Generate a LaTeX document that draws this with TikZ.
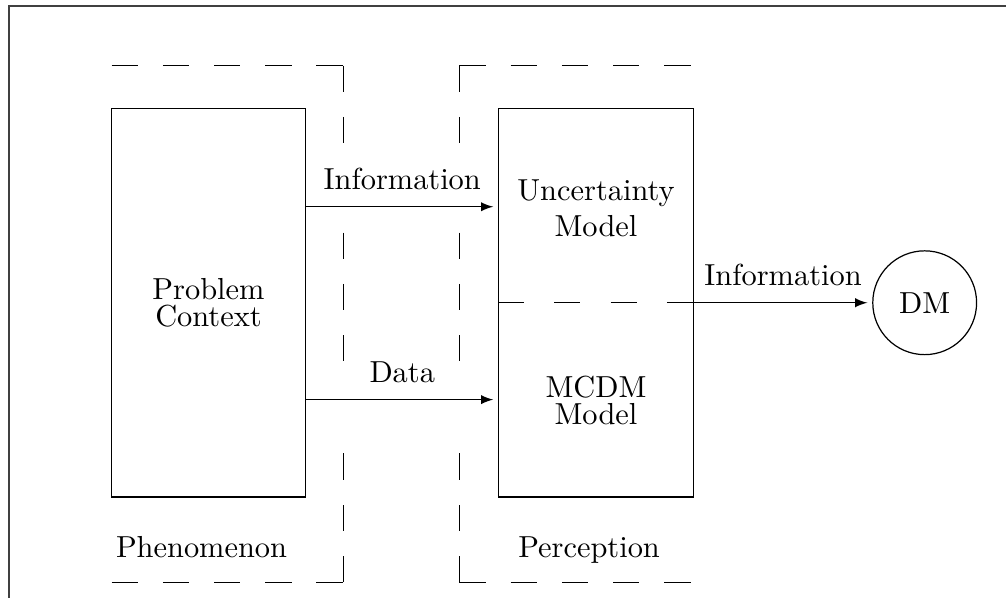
\documentclass[tikz,border=0pt]{standalone}

\begin{document}
\begin{tikzpicture}[
    box/.style={draw, minimum width=2.25cm, minimum height=4.49cm, inner sep=0pt},
    cut/.style={dash pattern=on 8.65pt off 8.2pt},
    seam/.style={dash pattern=on 8.6pt off 9.9pt},
    flow/.style={-latex, shorten >=1.6pt}]
  \useasboundingbox (0,0) rectangle (11.63,-6.91);
  % frame of the page
  \draw[black!75, line width=0.6pt] (11.63,-0.07) -- (0.10,-0.07) -- (0.10,-6.91);
  % phenomenon / perception regions, each piece dashed on its own
  % (the uprights leave room for the flows)
  \foreach \x/\a/\b in {3.97/1.29/3.97, 5.31/5.31/8.02}
  {
    \draw[cut] (\a,-0.76) -- (\b,-0.76) (\a,-6.73) -- (\b,-6.73);
    \draw[cut] (\x,-0.76) -- (\x,-1.69) (\x,-2.69) -- (\x,-4.21) (\x,-6.73) -- (\x,-5.14);
  }
  \node[anchor=base] (phen) at (2.33,-6.45) {Phenomenon};
  \node[anchor=base] (perc) at (6.81,-6.45) {Perception};
  % the boxes
  \node[box, align=center] (ctx) at (2.41,-3.50) {Problem\\[-3pt]Context};
  \node[box] (mdl) at (6.89,-3.50) {};
  \node[align=center] (unc) at (6.89,-2.41) {Uncertainty\\Model};
  \node[align=center] (mcdm) at (6.89,-4.63) {MCDM\\[-3pt]Model};
  \draw[seam] (mdl.west) -- (mdl.east);
  \node[draw, circle, minimum size=1.2cm, inner sep=0pt] (dm) at (10.69,-3.50) {DM};
  % flows between them
  \draw[flow] ([yshift=1.11cm]ctx.east) -- ([yshift=1.11cm]mdl.west)
    node[midway, above=2pt] {Information};
  \draw[flow] ([yshift=-1.12cm]ctx.east) -- ([yshift=-1.12cm]mdl.west)
    node[midway, above=2pt] {Data};
  \draw[flow] (mdl.east) -- (dm.west)
    node[midway, above=2pt] {Information};
\end{tikzpicture}
\end{document}
